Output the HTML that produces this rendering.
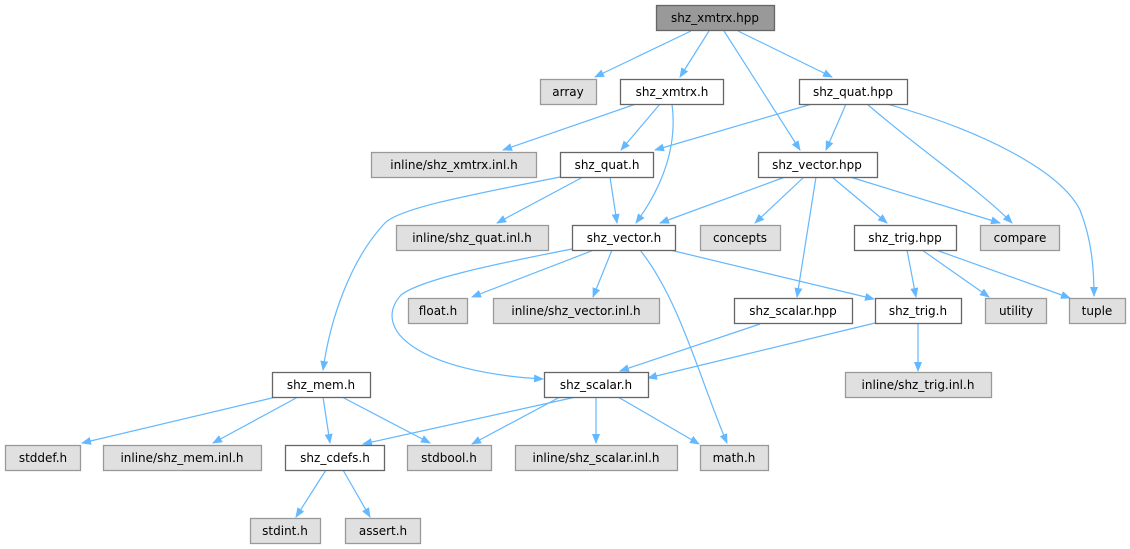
<!DOCTYPE html>
<html><head><style>
html,body{margin:0;padding:0;background:#fff;}
svg{display:block;}
text{font-family:"DejaVu Sans","Liberation Sans",sans-serif;font-size:12px;fill:#000;text-anchor:middle;}
.w{fill:#fff;stroke:#666;stroke-width:1.3}
.g{fill:#e0e0e0;stroke:#999;stroke-width:1.3}
.d{fill:#999;stroke:#666;stroke-width:1.3}
.e{fill:none;stroke:#63b8ff;stroke-width:1.2;marker-end:url(#a)}
</style></head><body>
<svg width="1130" height="549" viewBox="0 0 1130 549">
<defs><marker id="a" markerWidth="10" markerHeight="8" refX="9" refY="4" orient="auto" markerUnits="userSpaceOnUse"><path d="M0,0 L10,4 L0,8 z" fill="#63b8ff"/></marker></defs>
<g>
<path class="e" d="M691,31 L595,77"/>
<path class="e" d="M709,31 L680,77"/>
<path class="e" d="M724,31 L800,150"/>
<path class="e" d="M738,31 L832,77"/>
<path class="e" d="M636,104 L503,150"/>
<path class="e" d="M660,104 L621,150"/>
<path class="e" d="M672,104 C678,150 660,190 636,223"/>
<path class="e" d="M812,104 L655,150"/>
<path class="e" d="M846,104 L826,150"/>
<path class="e" d="M867,104 C920,150 980,190 1012,223"/>
<path class="e" d="M887,104 C980,130 1060,170 1080,210 C1092,240 1094,270 1094,296"/>
<path class="e" d="M583,177 L497,223"/>
<path class="e" d="M610,177 L617,223"/>
<path class="e" d="M560,177 C470,195 400,208 385,223 C350,260 330,320 323,370"/>
<path class="e" d="M785,177 L660,223"/>
<path class="e" d="M804,177 L755,223"/>
<path class="e" d="M816,177 L797,297"/>
<path class="e" d="M832,177 L887,223"/>
<path class="e" d="M850,177 L1000,223"/>
<path class="e" d="M572,249 C490,265 420,280 401,295 C370,330 420,372 543,379"/>
<path class="e" d="M594,250 L472,297"/>
<path class="e" d="M612,250 L593,297"/>
<path class="e" d="M640,250 C680,300 700,380 727,443"/>
<path class="e" d="M670,250 L874,299"/>
<path class="e" d="M907,250 L916,297"/>
<path class="e" d="M922,250 L989,297"/>
<path class="e" d="M936,250 L1070,298"/>
<path class="e" d="M760,324 L620,371"/>
<path class="e" d="M875,323 L648,378"/>
<path class="e" d="M918,324 L918,371"/>
<path class="e" d="M576,397 L363,444"/>
<path class="e" d="M596,397 L596,443"/>
<path class="e" d="M560,397 L472,444"/>
<path class="e" d="M618,397 L699,444"/>
<path class="e" d="M276,397 L82,443"/>
<path class="e" d="M298,397 L213,443"/>
<path class="e" d="M323,397 L330,443"/>
<path class="e" d="M342,397 L430,443"/>
<path class="e" d="M326,470 L296,517"/>
<path class="e" d="M343,470 L370,517"/>
</g>
<rect class="d" x="656.5" y="5.5" width="118" height="25"/><text x="715" y="22">shz_xmtrx.hpp</text>
<rect class="g" x="540.5" y="79.5" width="56" height="25"/><text x="568" y="96">array</text>
<rect class="w" x="620.5" y="79.5" width="103" height="25"/><text x="672" y="96">shz_xmtrx.h</text>
<rect class="w" x="799.5" y="79.5" width="108" height="25"/><text x="853" y="96">shz_quat.hpp</text>
<rect class="g" x="371.5" y="152.5" width="165" height="25"/><text x="454" y="169">inline/shz_xmtrx.inl.h</text>
<rect class="w" x="560.5" y="152.5" width="93" height="25"/><text x="607" y="169">shz_quat.h</text>
<rect class="w" x="758.5" y="152.5" width="119" height="25"/><text x="817" y="169">shz_vector.hpp</text>
<rect class="g" x="396.5" y="225.5" width="152" height="25"/><text x="472" y="242">inline/shz_quat.inl.h</text>
<rect class="w" x="572.5" y="225.5" width="103" height="25"/><text x="624" y="242">shz_vector.h</text>
<rect class="g" x="700.5" y="225.5" width="80" height="25"/><text x="740" y="242">concepts</text>
<rect class="w" x="854.5" y="225.5" width="102" height="25"/><text x="905" y="242">shz_trig.hpp</text>
<rect class="g" x="980.5" y="225.5" width="79" height="25"/><text x="1020" y="242">compare</text>
<rect class="g" x="408.5" y="298.5" width="59" height="25"/><text x="438" y="315">float.h</text>
<rect class="g" x="493.5" y="298.5" width="166" height="25"/><text x="576" y="315">inline/shz_vector.inl.h</text>
<rect class="w" x="734.5" y="298.5" width="118" height="25"/><text x="793" y="315">shz_scalar.hpp</text>
<rect class="w" x="875.5" y="298.5" width="86" height="25"/><text x="918" y="315">shz_trig.h</text>
<rect class="g" x="985.5" y="298.5" width="61" height="25"/><text x="1016" y="315">utility</text>
<rect class="g" x="1069.5" y="298.5" width="56" height="25"/><text x="1097" y="315">tuple</text>
<rect class="w" x="272.5" y="372.5" width="98" height="25"/><text x="321" y="389">shz_mem.h</text>
<rect class="w" x="544.5" y="372.5" width="104" height="25"/><text x="596" y="389">shz_scalar.h</text>
<rect class="g" x="845.5" y="372.5" width="146" height="25"/><text x="918" y="389">inline/shz_trig.inl.h</text>
<rect class="g" x="5.5" y="445.5" width="75" height="25"/><text x="43" y="462">stddef.h</text>
<rect class="g" x="103.5" y="445.5" width="158" height="25"/><text x="182" y="462">inline/shz_mem.inl.h</text>
<rect class="w" x="285.5" y="445.5" width="99" height="25"/><text x="335" y="462">shz_cdefs.h</text>
<rect class="g" x="407.5" y="445.5" width="84" height="25"/><text x="449" y="462">stdbool.h</text>
<rect class="g" x="515.5" y="445.5" width="162" height="25"/><text x="596" y="462">inline/shz_scalar.inl.h</text>
<rect class="g" x="700.5" y="445.5" width="68" height="25"/><text x="734" y="462">math.h</text>
<rect class="g" x="250.5" y="518.5" width="70" height="25"/><text x="285" y="535">stdint.h</text>
<rect class="g" x="345.5" y="518.5" width="75" height="25"/><text x="383" y="535">assert.h</text>
</svg>
</body></html>
